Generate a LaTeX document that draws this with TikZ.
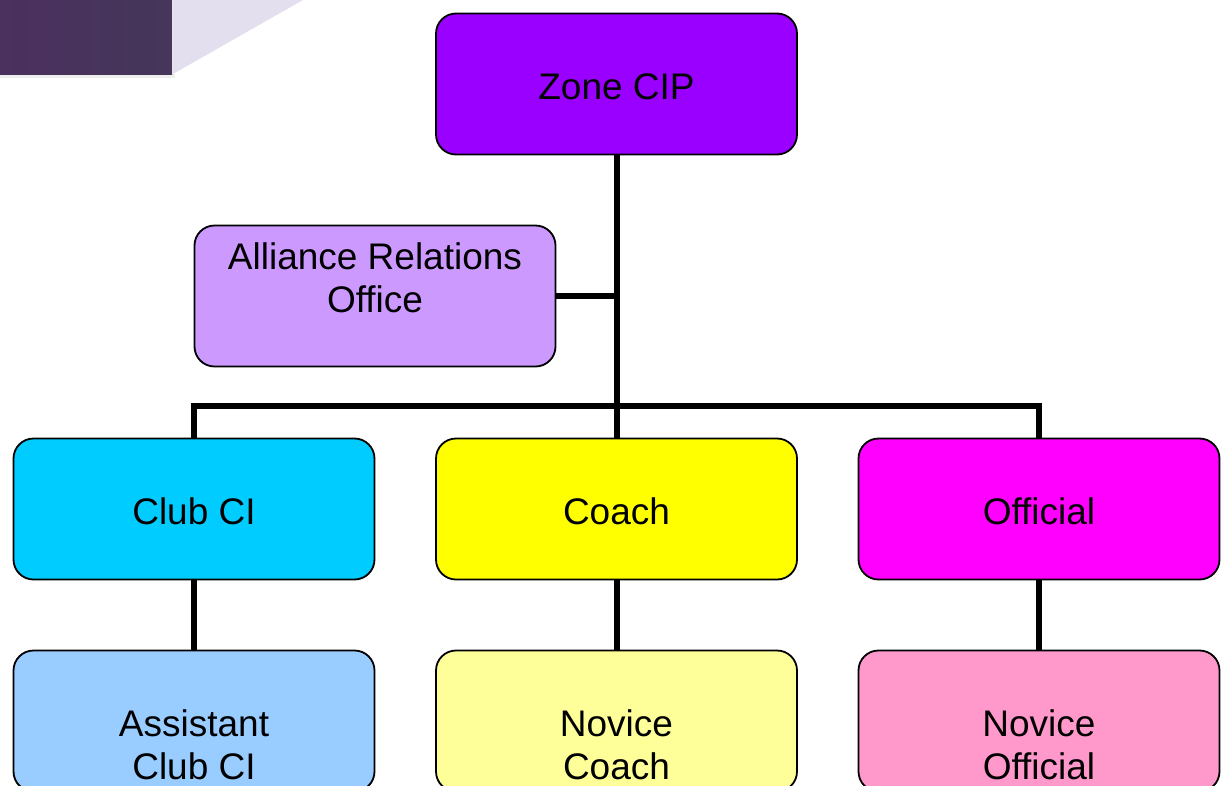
\documentclass[tikz,border=0pt]{standalone}
\usepackage{fontspec}
\setmainfont{Liberation Sans}
\definecolor{zonec}{HTML}{9900FF}
\definecolor{aroc}{HTML}{CC99FF}
\definecolor{clubc}{HTML}{00CCFF}
\definecolor{coachc}{HTML}{FFFF00}
\definecolor{offc}{HTML}{FF00FF}
\definecolor{aclubc}{HTML}{99CCFF}
\definecolor{ncoachc}{HTML}{FFFF99}
\definecolor{noffc}{HTML}{FF99CC}
\definecolor{decodark}{HTML}{45365A}
\definecolor{decolight}{HTML}{E4DFEE}
\definecolor{decoshadow}{HTML}{EEEEEE}
\begin{document}
\begin{tikzpicture}[x=1pt,y=-1pt,
  box/.style={draw=black, line width=1.8pt, rounded corners=20pt,
    minimum width=361pt, minimum height=141pt, inner sep=0pt,
    text height=30pt, text depth=0pt,
    font=\fontsize{37}{43}\selectfont, align=center},
  txt/.style={inner sep=0pt, align=center, font=\fontsize{37}{43}\selectfont},
  conn/.style={line width=6pt, line join=miter}]
\useasboundingbox (0,0) rectangle (1221,785);
\clip (0,0) rectangle (1221,785);
% decoration top-left
\fill[decoshadow] (0,74) rectangle (175,78);
\fill[decolight] (173,0) -- (303,0) -- (173,74) -- cycle;
\fill[left color=decodark!90!violet, right color=decodark] (0,0) rectangle (172,74);
% boxes
\node[box, fill=zonec] (zone) at (616.5,84) {Zone CIP};
\node[box, fill=aroc] (aro) at (375,296) {};
\node[txt] (arot) at ([yshift=18pt]aro.center) {\fontsize{37}{47}\selectfont Alliance Relations\\Office};
\node[box, fill=clubc] (club) at (194,509) {Club CI};
\node[box, fill=coachc] (coach) at (616.5,509) {Coach};
\node[box, fill=offc] (off) at (1039,509) {Official};
\node[box, fill=aclubc] (aclub) at (194,721) {};
\node[box, fill=ncoachc] (ncoach) at (616.5,721) {};
\node[box, fill=noffc] (noff) at (1039,721) {};
\node[txt] (aclubt) at ([yshift=-23.5pt]aclub.center) {Assistant\\Club CI};
\node[txt] (ncoacht) at ([yshift=-23.5pt]ncoach.center) {Novice\\Coach};
\node[txt] (nofft) at ([yshift=-23.5pt]noff.center) {Novice\\Official};
% connectors
\coordinate (j) at (616.5,406);
\draw[conn] (zone.south) -- (coach.north);
\draw[conn] (aro.east) -- (aro.east -| zone.south);
\draw[conn] (club.north) -- (club.north |- j) -- (off.north |- j) -- (off.north);
\draw[conn] (club.south) -- (aclub.north);
\draw[conn] (coach.south) -- (ncoach.north);
\draw[conn] (off.south) -- (noff.north);
\end{tikzpicture}
\end{document}
